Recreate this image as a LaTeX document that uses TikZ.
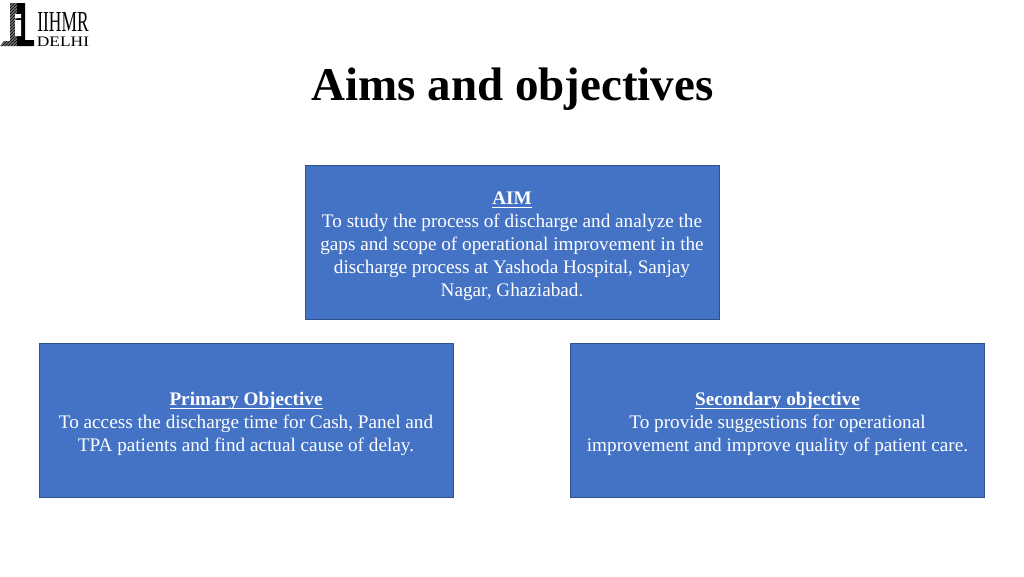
\documentclass[tikz,border=0pt]{standalone}
\usepackage{fontspec}
\setmainfont{Liberation Serif}
\usetikzlibrary{patterns}
\definecolor{boxblue}{HTML}{4472C4}
\definecolor{boxline}{HTML}{2F528F}
\newsavebox{\ulbox}
\newcommand{\headline}[1]{\sbox{\ulbox}{\textbf{#1}}\makebox[0pt][l]{\rule[-3.8pt]{\wd\ulbox}{1.1pt}}\usebox{\ulbox}}
\tikzset{
  x=1pt,y=-1pt,
  panel/.style={draw=boxline,line width=1pt,fill=boxblue,minimum width=414pt,minimum height=154pt,inner sep=0pt},
  paneltext/.style={inner sep=0pt,text=white,align=center,font=\fontsize{19.2}{23}\selectfont,yshift=-3.3pt},
  titletext/.style={font=\fontsize{47}{50}\selectfont\bfseries,text=black,inner sep=0pt},
  logotext/.style={inner sep=0pt,text=black,anchor=center}
}
\begin{document}
\begin{tikzpicture}
\useasboundingbox (0,0) rectangle (1024,576);
\fill[white] (0,0) rectangle (1024,576);
% logo
\fill[black!55] (10,3) rectangle (17,41);
\fill[black!55] (0,46) -- (4,41) -- (17,41) -- (17,46) -- cycle;
\fill[pattern=north east lines,pattern color=black] (10,3) rectangle (17,41);
\fill[pattern=north east lines,pattern color=black] (0,46) -- (4,41) -- (17,41) -- (17,46) -- cycle;
\fill[black] (17,3) rectangle (25,40) (17,40) rectangle (34,46);
\fill[white] (15,14) rectangle (21,18) (15,20) rectangle (21,36);
\node[logotext,font=\fontsize{29}{29}\selectfont] (logoa) at (63,22.5) {\addfontfeature{FakeStretch=0.6}IIHMR};
\node[logotext,font=\fontsize{14.5}{15}\selectfont] (logob) at (63,41.5) {\addfontfeature{FakeStretch=1.2}DELHI};
% title
\node[titletext] (title) at (512.5,89.5) {Aims and objectives};
% boxes
\node[panel] (aim) at (512,242.7) {};
\node[paneltext] (aimtext) at (aim) {\headline{AIM}\\To study the process of discharge and analyze the\\gaps and scope of operational improvement in the\\discharge process at Yashoda Hospital, Sanjay\\Nagar, Ghaziabad.};
\node[panel] (primary) at (246,420.5) {};
\node[paneltext] (primarytext) at (primary) {\headline{Primary Objective}\\To access the discharge time for Cash, Panel and\\TPA patients and find actual cause of delay.};
\node[panel] (secondary) at (777.5,420.5) {};
\node[paneltext] (secondarytext) at (secondary) {\headline{Secondary objective}\\To provide suggestions for operational\\improvement and improve quality of patient care.};
\end{tikzpicture}
\end{document}
